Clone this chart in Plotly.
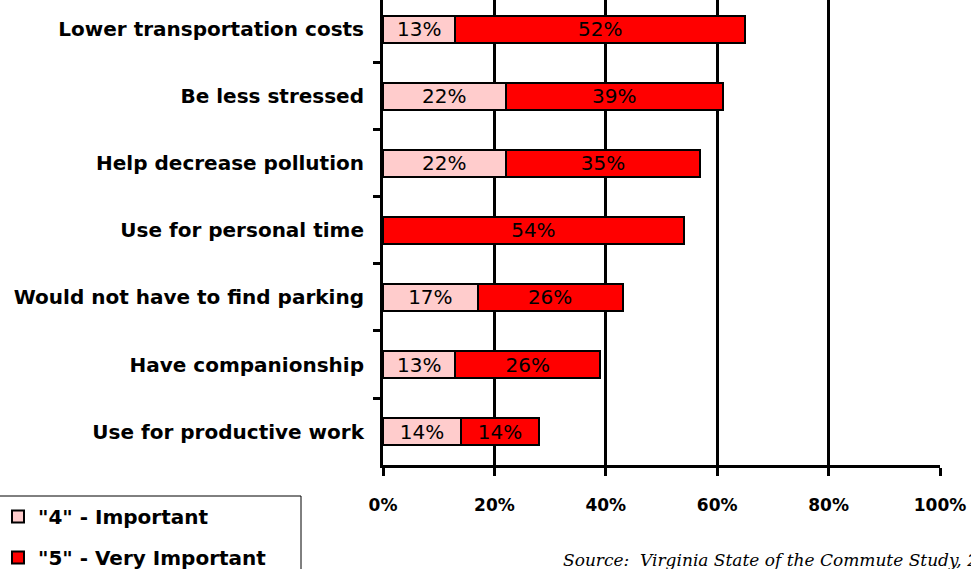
import plotly.graph_objects as go

categories = [
    "Lower transportation costs",
    "Be less stressed",
    "Help decrease pollution",
    "Use for personal time",
    "Would not have to find parking",
    "Have companionship",
    "Use for productive work",
]
important_4 = [13, 22, 22, 0, 17, 13, 14]
very_important_5 = [52, 39, 35, 54, 26, 26, 14]
x_ticks = [0, 20, 40, 60, 80, 100]
x_tick_labels = ["0%", "20%", "40%", "60%", "80%", "100%"]
series_names = ['"4" - Important', '"5" - Very Important']
source_text = "Source:  Virginia State of the Commute Study, 2007"

W, H = 971, 569
L, R, T, B = 383, 31, 0, 104
pw, ph = W - L - R, H - T - B


def px_x(px):
    return (px - L) / pw


def px_y(py):
    return (H - B - py) / ph


def lbl(vals):
    return [f"{v}%" if v else "" for v in vals]


bar_font = dict(family="DejaVu Sans", size=20, color="black")

fig = go.Figure()
fig.add_trace(go.Bar(
    y=categories, x=important_4, orientation="h", name=series_names[0],
    legendgroup="a",
    marker=dict(color="#FFCCCC", line=dict(color="black", width=2)),
    text=lbl(important_4), textposition="inside", insidetextanchor="middle",
    textangle=0, constraintext="none", textfont=bar_font,
    hoverinfo="skip",
))
fig.add_trace(go.Bar(
    y=categories, x=very_important_5, orientation="h", name=series_names[1],
    legendgroup="b",
    marker=dict(color="#FF0000", line=dict(color="black", width=2)),
    text=lbl(very_important_5), textposition="inside", insidetextanchor="middle",
    textangle=0, constraintext="none", textfont=bar_font,
    hoverinfo="skip",
))

fig.update_layout(
    width=W, height=H,
    margin=dict(l=L, r=R, t=T, b=B, autoexpand=False),
    paper_bgcolor="white", plot_bgcolor="white",
    barmode="stack", bargap=0.6,
    showlegend=True,
    legend=dict(
        x=px_x(-2), y=px_y(497), xanchor="left", yanchor="top",
        font=dict(family="DejaVu Sans", size=20, color="black", weight="bold"),
        traceorder="grouped", tracegroupgap=12,
        bgcolor="rgba(0,0,0,0)", borderwidth=0,
    ),
    xaxis=dict(
        range=[0, 100], tickvals=x_ticks, ticktext=x_tick_labels,
        showgrid=True, gridcolor="black", gridwidth=3,
        zeroline=False, showline=True, linecolor="black", linewidth=3,
        ticks="outside", ticklen=8, tickwidth=3, tickcolor="black",
        ticklabelstandoff=15,
        tickfont=dict(family="DejaVu Sans", size=17, color="black", weight="bold"),
    ),
    yaxis=dict(
        type="category", categoryorder="array", categoryarray=categories,
        range=[6.5, -0.44],
        showgrid=False, zeroline=False,
        showline=True, linecolor="black", linewidth=3,
        ticks="outside", ticklen=7, tickwidth=3, tickcolor="black",
        tickson="boundaries", ticklabelstandoff=12,
        tickfont=dict(family="DejaVu Sans", size=20, color="black", weight="bold"),
    ),
    shapes=[dict(
        type="rect", xref="paper", yref="paper",
        x0=px_x(-10), x1=px_x(301), y0=px_y(496), y1=px_y(620),
        line=dict(color="black", width=1), fillcolor="rgba(0,0,0,0)",
        layer="above",
    )],
    annotations=[dict(
        text=source_text, xref="paper", yref="paper",
        x=px_x(561), y=px_y(560), xanchor="left", yanchor="middle",
        showarrow=False,
        font=dict(family="DejaVu Serif", size=17, color="black", style="italic"),
    )],
)

fig.write_html(
    "out.html",
    config={"displayModeBar": False},
    post_script="document.body.style.margin='0';document.body.style.overflow='hidden';",
)
